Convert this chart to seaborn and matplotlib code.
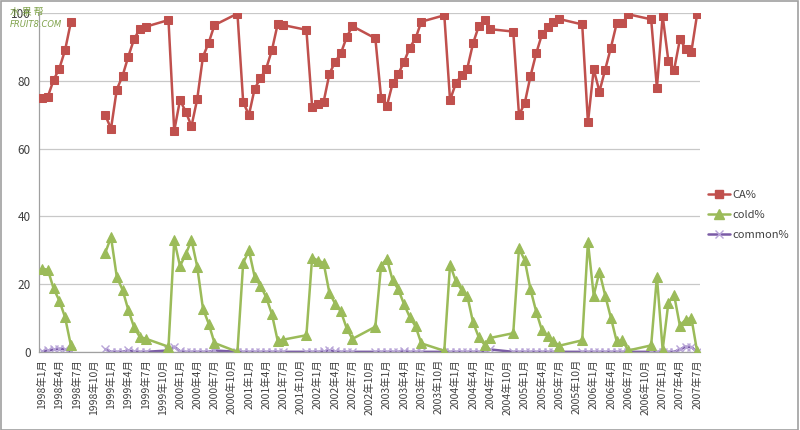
import numpy as np
import pandas as pd
import seaborn as sns
import matplotlib.pyplot as plt
from matplotlib.lines import Line2D
from matplotlib.patches import Rectangle

# observed months (Aug-Oct missing from 1999 on, Jul-Nov 1998 blank)
months = ['1998-01', '1998-02', '1998-03', '1998-04', '1998-05', '1998-06',
          '1998-12', '1999-01', '1999-02', '1999-03', '1999-04', '1999-05', '1999-06', '1999-07',
          '1999-11', '1999-12', '2000-01', '2000-02', '2000-03', '2000-04', '2000-05', '2000-06', '2000-07',
          '2000-11', '2000-12', '2001-01', '2001-02', '2001-03', '2001-04', '2001-05', '2001-06', '2001-07',
          '2001-11', '2001-12', '2002-01', '2002-02', '2002-03', '2002-04', '2002-05', '2002-06', '2002-07',
          '2002-11', '2002-12', '2003-01', '2003-02', '2003-03', '2003-04', '2003-05', '2003-06', '2003-07',
          '2003-11', '2003-12', '2004-01', '2004-02', '2004-03', '2004-04', '2004-05', '2004-06', '2004-07',
          '2004-11', '2004-12', '2005-01', '2005-02', '2005-03', '2005-04', '2005-05', '2005-06', '2005-07',
          '2005-11', '2005-12', '2006-01', '2006-02', '2006-03', '2006-04', '2006-05', '2006-06', '2006-07',
          '2006-11', '2006-12', '2007-01', '2007-02', '2007-03', '2007-04', '2007-05', '2007-06', '2007-07']

ca = [75.0, 75.3, 80.2, 83.6, 89.0, 97.2,
      69.8, 65.9, 77.4, 81.4, 87.1, 92.2, 95.3, 95.9,
      97.9, 65.2, 74.3, 70.9, 66.6, 74.6, 87.1, 91.2, 96.4,
      99.8, 73.7, 69.9, 77.7, 80.7, 83.6, 89.0, 96.7, 96.4,
      95.0, 72.3, 73.1, 73.8, 82.0, 85.6, 88.1, 92.8, 96.1,
      92.5, 75.0, 72.5, 79.2, 82.0, 85.6, 89.8, 92.5, 97.4,
      99.3, 74.3, 79.2, 81.7, 83.6, 91.0, 96.1, 97.9, 95.2,
      94.5, 69.9, 73.4, 81.4, 88.1, 93.7, 95.7, 97.4, 98.2,
      96.6, 67.7, 83.4, 76.8, 83.3, 89.8, 96.9, 96.9, 99.6,
      98.1, 77.9, 99.1, 85.8, 83.3, 92.2, 89.5, 88.6, 99.6]

cold = [24.6, 24.3, 18.8, 15.2, 10.3, 2.1,
        29.3, 33.9, 22.2, 18.4, 12.5, 7.4, 4.5, 4.0,
        1.6, 33.0, 25.4, 28.8, 33.1, 25.2, 12.8, 8.4, 2.7,
        0.1, 26.3, 30.0, 22.2, 19.6, 16.2, 11.2, 3.4, 3.7,
        5.0, 27.9, 27.0, 26.3, 17.5, 14.3, 12.0, 7.1, 3.9,
        7.5, 25.5, 27.6, 21.2, 18.5, 14.1, 10.3, 7.6, 2.6,
        0.4, 25.8, 21.0, 18.4, 16.6, 8.8, 4.4, 2.2, 4.2,
        5.6, 30.6, 27.1, 18.5, 11.9, 6.4, 4.7, 3.2, 1.9,
        3.5, 32.5, 16.7, 23.7, 16.7, 10.1, 3.2, 3.5, 0.5,
        2.0, 22.3, 0.7, 14.6, 16.8, 7.8, 9.6, 10.1, 0.2]

common = [0.2, 0.5, 0.8, 1.0, 0.8, 0.3,
          0.9, 0.1, 0.1, 0.1, 0.5, 0.2, 0.1, 0.1,
          0.5, 1.6, 0.3, 0.1, 0.1, 0.1, 0.1, 0.1, 0.5,
          0.1, 0.1, 0.1, 0.1, 0.1, 0.1, 0.1, 0.1, 0.1,
          0.1, 0.1, 0.1, 0.2, 0.5, 0.2, 0.1, 0.1, 0.1,
          0.1, 0.1, 0.1, 0.1, 0.1, 0.3, 0.1, 0.1, 0.1,
          0.1, 0.1, 0.1, 0.1, 0.1, 0.1, 0.1, 0.2, 0.8,
          0.1, 0.1, 0.1, 0.1, 0.1, 0.1, 0.1, 0.1, 0.1,
          0.1, 0.1, 0.1, 0.1, 0.1, 0.1, 0.1, 0.1, 0.1,
          0.1, 0.1, 0.1, 0.1, 0.1, 0.8, 1.6, 1.5, 0.1]

sns.set_style('white')
plt.rcParams['font.family'] = ['Noto Sans CJK SC', 'DejaVu Sans']

dt = pd.to_datetime(months)
df = pd.DataFrame({'idx': (dt.year - 1998) * 12 + dt.month - 1,
                   'CA%': ca, 'cold%': cold, 'common%': common})
# 1998 Jul-Nov are blank -> separate line piece
df['seg'] = (df['idx'] > 6).astype(int)

fig = plt.figure(figsize=(8, 4.3), dpi=100)
ax = fig.add_axes([0.049, 0.181, 0.826, 0.789])

red, green, purple, lilac = '#c0504d', '#9bbb59', '#7a5ba6', '#b8a5d8'
sns.lineplot(data=df, x='idx', y='common%', units='seg', estimator=None, ax=ax,
             color=purple, lw=1.8, marker='x', ms=5.5, mec=lilac, mew=1.0, zorder=2)
sns.lineplot(data=df, x='idx', y='cold%', units='seg', estimator=None, ax=ax,
             color=green, lw=1.8, marker='^', ms=6.5, mec=green, mfc=green, zorder=3)
sns.lineplot(data=df, x='idx', y='CA%', units='seg', estimator=None, ax=ax,
             color=red, lw=1.8, marker='s', ms=6.3, mec=red, mfc=red, zorder=4)

ax.set_xlim(-0.5, 114.5)
ax.set_ylim(0, 100)
ax.set_yticks(range(0, 101, 20))
ax.yaxis.grid(True, color='#c8c8c8', lw=0.9)
ax.set_axisbelow(True)

tick_idx = list(range(0, 115, 3))
tick_lab = [f'{1998 + i // 12}年{i % 12 + 1}月' for i in tick_idx]
ax.set_xticks(tick_idx)
ax.set_xticklabels(tick_lab, rotation=90, fontsize=7.5, color='#404040')
ax.tick_params(axis='x', direction='in', length=4, color='#999999', pad=5)
ax.tick_params(axis='y', length=0, labelsize=8.5, labelcolor='#404040', pad=6)
ax.set_xlabel('')
ax.set_ylabel('')
for s in ['top', 'right']:
    ax.spines[s].set_visible(False)
for s in ['left', 'bottom']:
    ax.spines[s].set_color('#a0a0a0')
    ax.spines[s].set_linewidth(0.9)

handles = [Line2D([], [], color=red, lw=1.8, marker='s', ms=6, mec=red),
           Line2D([], [], color=green, lw=1.8, marker='^', ms=6.5, mec=green),
           Line2D([], [], color=purple, lw=1.8, marker='x', ms=5.5, mec=lilac)]
fig.legend(handles, ['CA%', 'cold%', 'common%'], loc='center left',
           bbox_to_anchor=(0.885, 0.5), frameon=False, fontsize=8,
           handlelength=2.0, handletextpad=0.15, labelspacing=0.9,
           borderaxespad=0, borderpad=0, labelcolor='#404040')

# site watermark
fig.text(0.012, 0.972, '水 果 帮', fontsize=7, color='#7fa24a', ha='left', va='center')
fig.text(0.012, 0.942, 'FRUIT8.COM', fontsize=6, color='#7fa24a', style='italic',
         ha='left', va='center', family='DejaVu Sans')

fig.patches.append(Rectangle((0.001, 0.001), 0.997, 0.997, transform=fig.transFigure,
                             fill=False, edgecolor='#a0a0a0', lw=1.2))

fig.savefig('out.png', dpi=100, facecolor='white')
